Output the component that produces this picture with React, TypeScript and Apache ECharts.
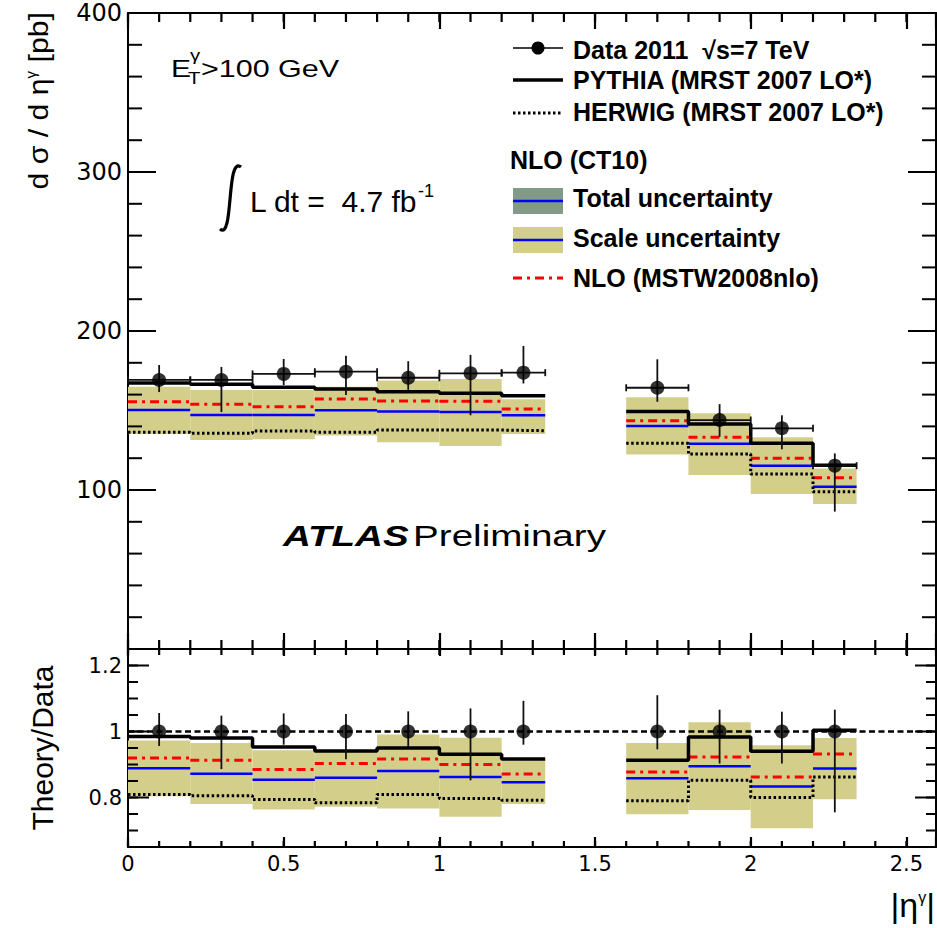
import React, { useEffect, useRef } from "react";
import * as echarts from "echarts";

// ---------- data ----------
const binLo = [0, 0.2, 0.4, 0.6, 0.8, 1.0, 1.2, 1.6, 1.8, 2.0, 2.2];
const binHi = [0.2, 0.4, 0.6, 0.8, 1.0, 1.2, 1.34, 1.8, 2.0, 2.2, 2.34];
const dataX = [0.1, 0.3, 0.5, 0.7, 0.9, 1.1, 1.27, 1.7, 1.9, 2.1, 2.27];
const binGroups = [[0, 7], [7, 11]];

// top panel: d sigma / d eta [pb]
const dataVal = [169.2, 169.2, 173.0, 174.4, 170.6, 173.4, 173.8, 164.3, 144.0, 138.8, 115.3];
const dataHigh = [178.6, 177.4, 182.4, 184.5, 181.0, 185.0, 190.6, 182.2, 154.0, 147.0, 123.0];
const dataLow = [161.6, 149.0, 166.0, 159.7, 163.0, 147.0, 167.0, 155.5, 133.5, 125.6, 86.4];
const pythia = [167.3, 166.5, 164.6, 163.5, 161.8, 160.8, 159.3, 149.3, 141.5, 129.4, 115.5];
const herwig = [136.3, 135.7, 137.1, 136.3, 137.7, 137.7, 137.3, 129.4, 122.6, 110.0, 98.9];
const nloCT10 = [150.3, 147.2, 147.2, 150.1, 149.3, 149.0, 147.0, 140.3, 129.1, 115.3, 102.1];
const nloMSTW = [155.5, 154.0, 152.4, 157.2, 156.0, 155.8, 151.0, 143.6, 133.1, 119.9, 107.7];
const scaleHigh = [165.0, 162.9, 162.9, 165.0, 168.8, 169.8, 157.0, 158.3, 148.2, 133.1, 113.6];
const scaleLow = [135.2, 131.4, 131.9, 134.2, 130.0, 127.7, 135.2, 122.4, 109.4, 97.5, 91.2];

// bottom panel: Theory/Data
const ratioData = [1, 1, 1, 1, 1, 1, 1, 1, 1, 1, 1];
const ratioDataHigh = [1.056, 1.048, 1.055, 1.053, 1.061, 1.07, 1.093, 1.11, 1.066, 1.06, 1.066];
const ratioDataLow = [0.956, 0.886, 0.96, 0.916, 0.953, 0.852, 0.96, 0.946, 0.903, 0.903, 0.755];
const ratioPythia = [0.985, 0.98, 0.953, 0.941, 0.95, 0.931, 0.917, 0.913, 0.983, 0.94, 1.004];
const ratioHerwig = [0.809, 0.805, 0.794, 0.784, 0.809, 0.797, 0.792, 0.79, 0.852, 0.8, 0.862];
const ratioCT10 = [0.889, 0.872, 0.854, 0.86, 0.88, 0.862, 0.846, 0.858, 0.895, 0.833, 0.888];
const ratioMSTW = [0.92, 0.913, 0.885, 0.903, 0.917, 0.9, 0.871, 0.877, 0.923, 0.862, 0.932];
const ratioScaleHigh = [0.973, 0.965, 0.943, 0.943, 0.991, 0.981, 0.913, 0.965, 1.028, 0.958, 0.98];
const ratioScaleLow = [0.804, 0.78, 0.764, 0.772, 0.767, 0.742, 0.78, 0.749, 0.762, 0.707, 0.795];
const unity = 1;

// axes and tick marks
const xRange = [0, 2.595];
const xMajorTicks = [0, 0.5, 1, 1.5, 2, 2.5];
const xMinorTicks = Array.from({ length: 26 }, (_, i) => i / 10);
const topRange = [0, 400];
const topMajorTicks = [0, 100, 200, 300, 400];
const topMinorTicks = Array.from({ length: 21 }, (_, i) => i * 20);
const topLabels = [100, 200, 300, 400];
const ratioRange = [0.65, 1.25];
const ratioMajorTicks = [0.8, 1, 1.2];
const ratioMinorTicks = Array.from({ length: 12 }, (_, i) => 0.7 + i * 0.05);

// ---------- styles ----------
const BAND = "#d3cf8b";
const TOTAL = "#829b88";
const BLUE = "#0000ff";
const RED = "#ff0000";
const MSTW_DASH = [9, 5, 3, 5];
const DOT_DASH = [2.5, 2.5];
const SANS = '"Liberation Sans", Arial, sans-serif';
const WIDE = '"DejaVu Sans", sans-serif';

function App() {
  const ref = useRef<HTMLDivElement>(null);

  useEffect(() => {
    if (!ref.current) return;
    const chart = echarts.init(ref.current, null, { renderer: "svg" });

    const frame = { show: true, onZero: false, lineStyle: { color: "#000", width: 2 } };
    const mkX = (grid: number, position: string, labels: boolean, tickLen: number) => ({
      type: "value",
      gridIndex: grid,
      position,
      min: xRange[0],
      max: xRange[1],
      interval: 0.5,
      axisLine: frame,
      axisTick: { show: true, inside: true, length: tickLen, lineStyle: { color: "#000", width: 2.2 } },
      axisLabel: labels
        ? { show: true, customValues: xMajorTicks, fontFamily: WIDE, fontSize: 21, color: "#000", margin: 6 }
        : { show: false },
      splitLine: { show: false },
    });
    const mkY = (grid: number, position: string, range: number[], labelVals: number[] | null, fontSize: number) => ({
      type: "value",
      gridIndex: grid,
      position,
      min: range[0],
      max: range[1],
      axisLine: frame,
      axisTick: { show: false },
      axisLabel: labelVals
        ? { show: true, customValues: labelVals, fontFamily: WIDE, fontSize, color: "#000", margin: 6 }
        : { show: false },
      splitLine: { show: false },
    });

    const xAxis = [
      mkX(0, "bottom", false, 16),
      mkX(0, "top", false, 16),
      mkX(1, "bottom", true, 10),
      mkX(1, "top", false, 7),
    ];
    const yAxis = [
      mkY(0, "left", topRange, topLabels, 24),
      mkY(0, "right", topRange, null, 24),
      mkY(1, "left", ratioRange, ratioMajorTicks, 21),
      mkY(1, "right", ratioRange, null, 21),
    ];

    // inside tick marks placed through the axes' scales
    const mkYTicks = (vals: number[], len: number, xi: number, yi: number) => ({
      type: "custom",
      xAxisIndex: xi,
      yAxisIndex: yi,
      z: 6,
      silent: true,
      data: vals.map((v) => [1, v]),
      renderItem: (_p: any, api: any) => {
        const l = api.coord([xRange[0], api.value(1)]);
        const r = api.coord([xRange[1], api.value(1)]);
        return {
          type: "group",
          children: [
            { type: "line", shape: { x1: l[0], y1: l[1], x2: l[0] + len, y2: l[1] }, style: { stroke: "#000", lineWidth: 2 } },
            { type: "line", shape: { x1: r[0] - len, y1: r[1], x2: r[0], y2: r[1] }, style: { stroke: "#000", lineWidth: 2 } },
          ],
        };
      },
    });
    const mkXMinorTicks = (vals: number[], len: number, xi: number, yi: number, yEdge: number, dir: number, mid: number) => ({
      type: "custom",
      xAxisIndex: xi,
      yAxisIndex: yi,
      z: 6,
      silent: true,
      data: [[1, mid]],
      renderItem: (_p: any, api: any) => ({
        type: "group",
        children: vals.map((v) => {
          const b = api.coord([v, yEdge]);
          return {
            type: "line",
            shape: { x1: b[0], y1: b[1], x2: b[0], y2: b[1] + dir * len },
            style: { stroke: "#000", lineWidth: 2.2 },
          };
        }),
      }),
    });

    const mkBand = (low: number[], high: number[], xi: number, yi: number, color: string) => ({
      type: "custom",
      xAxisIndex: xi,
      yAxisIndex: yi,
      z: 1,
      silent: true,
      data: binLo.map((lo, i) => [lo, binHi[i], low[i], high[i]]),
      renderItem: (_p: any, api: any) => {
        const a = api.coord([api.value(0), api.value(3)]);
        const b = api.coord([api.value(1), api.value(2)]);
        return {
          type: "rect",
          shape: { x: a[0], y: a[1], width: b[0] - a[0], height: b[1] - a[1] },
          style: { fill: color },
        };
      },
    });

    const mkSeg = (vals: number[], xi: number, yi: number, style: any) => ({
      type: "custom",
      xAxisIndex: xi,
      yAxisIndex: yi,
      z: 2,
      silent: true,
      data: binLo.map((lo, i) => [lo, binHi[i], vals[i]]),
      renderItem: (_p: any, api: any) => {
        const a = api.coord([api.value(0), api.value(2)]);
        const b = api.coord([api.value(1), api.value(2)]);
        return {
          type: "line",
          shape: { x1: a[0], y1: a[1], x2: b[0], y2: b[1] },
          style: { fill: null, ...style },
        };
      },
    });

    const mkStep = (vals: number[], xi: number, yi: number, lineStyle: any) =>
      binGroups.map(([s, e]) => ({
        type: "line",
        xAxisIndex: xi,
        yAxisIndex: yi,
        z: 3,
        silent: true,
        symbol: "none",
        lineStyle,
        data: binLo.slice(s, e).flatMap((lo, k) => [
          [lo, vals[s + k]],
          [binHi[s + k], vals[s + k]],
        ]),
      }));

    const errStyle = { stroke: "#111", lineWidth: 1.8 };
    const mkErr = (vals: number[], low: number[], high: number[], xi: number, yi: number, horiz: boolean) => ({
      type: "custom",
      xAxisIndex: xi,
      yAxisIndex: yi,
      z: 4,
      silent: true,
      data: dataX.map((x, i) => [x, vals[i], low[i], high[i], binLo[i], binHi[i]]),
      renderItem: (_p: any, api: any) => {
        const x = api.value(0);
        const y = api.value(1);
        const t = api.coord([x, api.value(3)]);
        const b = api.coord([x, api.value(2)]);
        const children: any[] = [
          { type: "line", shape: { x1: t[0], y1: t[1], x2: b[0], y2: b[1] }, style: errStyle },
        ];
        if (horiz) {
          const l = api.coord([api.value(4), y]);
          const r = api.coord([api.value(5), y]);
          children.push({ type: "line", shape: { x1: l[0], y1: l[1], x2: r[0], y2: r[1] }, style: errStyle });
          children.push({ type: "line", shape: { x1: l[0], y1: l[1] - 3.5, x2: l[0], y2: l[1] + 3.5 }, style: errStyle });
          children.push({ type: "line", shape: { x1: r[0], y1: r[1] - 3.5, x2: r[0], y2: r[1] + 3.5 }, style: errStyle });
        }
        return { type: "group", children };
      },
    });

    const mkPts = (vals: number[], xi: number, yi: number) => ({
      type: "scatter",
      xAxisIndex: xi,
      yAxisIndex: yi,
      z: 5,
      silent: true,
      symbol: "circle",
      symbolSize: 14,
      itemStyle: { color: "#000" },
      data: dataX.map((x, i) => [x, vals[i]]),
    });

    const series: any[] = [
      // top panel
      mkBand(scaleLow, scaleHigh, 0, 0, BAND),
      mkSeg(nloCT10, 0, 0, { stroke: BLUE, lineWidth: 2.5 }),
      mkSeg(nloMSTW, 0, 0, { stroke: RED, lineWidth: 3, lineDash: MSTW_DASH }),
      ...mkStep(herwig, 0, 0, { color: "#000", width: 3, type: DOT_DASH }),
      ...mkStep(pythia, 0, 0, { color: "#000", width: 3.5 }),
      mkErr(dataVal, dataLow, dataHigh, 0, 0, true),
      mkPts(dataVal, 0, 0),
      mkYTicks(topMajorTicks, 28, 0, 0),
      mkYTicks(topMinorTicks, 14, 0, 0),
      mkXMinorTicks(xMinorTicks, 9, 0, 0, topRange[0], -1, 200),
      mkXMinorTicks(xMinorTicks, 9, 0, 0, topRange[1], 1, 200),
      // ratio panel
      mkBand(ratioScaleLow, ratioScaleHigh, 2, 2, BAND),
      mkSeg(ratioCT10, 2, 2, { stroke: BLUE, lineWidth: 2.5 }),
      mkSeg(ratioMSTW, 2, 2, { stroke: RED, lineWidth: 3, lineDash: MSTW_DASH }),
      ...mkStep(ratioHerwig, 2, 2, { color: "#000", width: 3, type: DOT_DASH }),
      {
        type: "line",
        xAxisIndex: 2,
        yAxisIndex: 2,
        z: 3,
        silent: true,
        symbol: "none",
        lineStyle: { color: "#000", width: 2.5, type: [6, 3.5] },
        data: [
          [xRange[0], unity],
          [xRange[1], unity],
        ],
      },
      ...mkStep(ratioPythia, 2, 2, { color: "#000", width: 3.5 }),
      mkErr(ratioData, ratioDataLow, ratioDataHigh, 2, 2, false),
      mkPts(ratioData, 2, 2),
      mkYTicks(ratioMajorTicks, 21, 2, 2),
      mkYTicks(ratioMinorTicks, 10, 2, 2),
      mkXMinorTicks(xMinorTicks, 6, 2, 2, ratioRange[0], -1, 1),
      mkXMinorTicks(xMinorTicks, 6, 2, 2, ratioRange[1], 1, 1),
    ];

    const legendText = (y: number, text: string, x = 573) => ({
      type: "text",
      x,
      y,
      style: { text, font: `bold 25px ${SANS}`, fill: "#000", textAlign: "left", textVerticalAlign: "middle" },
    });

    const graphic: any[] = [
      // legend
      { type: "line", shape: { x1: 513, y1: 48, x2: 563, y2: 48 }, style: { stroke: "#000", lineWidth: 1.5 } },
      { type: "circle", shape: { cx: 538, cy: 48, r: 6.5 }, style: { fill: "#000" } },
      legendText(50, "Data 2011  \u221As=7 TeV"),
      { type: "line", shape: { x1: 513, y1: 80, x2: 563, y2: 80 }, style: { stroke: "#000", lineWidth: 3.5 } },
      legendText(80, "PYTHIA (MRST 2007 LO*)"),
      {
        type: "line",
        shape: { x1: 513, y1: 113, x2: 563, y2: 113 },
        style: { stroke: "#000", lineWidth: 3, lineDash: DOT_DASH },
      },
      legendText(112, "HERWIG (MRST 2007 LO*)"),
      legendText(160, "NLO (CT10)", 510),
      { type: "rect", shape: { x: 513, y: 188, width: 50, height: 26 }, style: { fill: TOTAL } },
      { type: "line", shape: { x1: 513, y1: 201, x2: 563, y2: 201 }, style: { stroke: BLUE, lineWidth: 2.5 } },
      legendText(198, "Total uncertainty"),
      { type: "rect", shape: { x: 513, y: 227, width: 50, height: 26 }, style: { fill: BAND } },
      { type: "line", shape: { x1: 513, y1: 240, x2: 563, y2: 240 }, style: { stroke: BLUE, lineWidth: 2.5 } },
      legendText(238, "Scale uncertainty"),
      {
        type: "line",
        shape: { x1: 513, y1: 278, x2: 563, y2: 278 },
        style: { stroke: RED, lineWidth: 3, lineDash: MSTW_DASH },
      },
      legendText(278, "NLO (MSTW2008nlo)"),

      // E_T^gamma > 100 GeV
      {
        type: "text",
        x: 171,
        y: 69,
        scaleX: 1.25,
        style: { text: "E", font: `24px ${SANS}`, fill: "#000", textVerticalAlign: "middle" },
      },
      {
        type: "text",
        x: 188,
        y: 78,
        scaleX: 1.2,
        style: { text: "T", font: `17px ${SANS}`, fill: "#000", textVerticalAlign: "middle" },
      },
      {
        type: "text",
        x: 190,
        y: 55,
        scaleX: 1.2,
        style: { text: "\u03B3", font: `17px ${SANS}`, fill: "#000", textVerticalAlign: "middle" },
      },
      {
        type: "text",
        x: 201,
        y: 69,
        scaleX: 1.27,
        style: { text: ">100 GeV", font: `24px ${SANS}`, fill: "#000", textVerticalAlign: "middle" },
      },

      // integral L dt
      {
        type: "bezierCurve",
        shape: { x1: 220, y1: 229, cpx1: 234, cpy1: 241, cpx2: 226, cpy2: 155, x2: 241, y2: 167 },
        style: { stroke: "#000", lineWidth: 3.2, fill: null },
      },
      {
        type: "text",
        x: 250,
        y: 201,
        style: { text: "L dt =  4.7 fb", font: `30px ${SANS}`, fill: "#000", textVerticalAlign: "middle" },
      },
      {
        type: "text",
        x: 418,
        y: 191,
        style: { text: "-1", font: `18px ${SANS}`, fill: "#000", textVerticalAlign: "middle" },
      },

      // ATLAS Preliminary
      {
        type: "text",
        x: 283,
        y: 536,
        scaleX: 1.33,
        style: {
          text: "{a|ATLAS} {b|Preliminary}",
          fill: "#000",
          textVerticalAlign: "middle",
          rich: {
            a: { fontFamily: SANS, fontSize: 29, fontWeight: "bold", fontStyle: "italic", fill: "#000" },
            b: { fontFamily: SANS, fontSize: 29, fill: "#000" },
          },
        },
      },

      // axis titles
      {
        type: "text",
        x: 38,
        y: 12,
        rotation: Math.PI / 2,
        scaleX: 1.08,
        style: {
          text: "d \u03C3 / d \u03B7{s|\u03B3} [pb]",
          font: `28px ${SANS}`,
          fill: "#000",
          textAlign: "right",
          textVerticalAlign: "middle",
          rich: { s: { fontFamily: SANS, fontSize: 14, verticalAlign: "top", padding: [0, 0, 12, 0] } },
        },
      },
      {
        type: "text",
        x: 42,
        y: 748,
        rotation: Math.PI / 2,
        style: {
          text: "Theory/Data",
          font: `30px ${SANS}`,
          fill: "#000",
          textAlign: "center",
          textVerticalAlign: "middle",
        },
      },
      {
        type: "text",
        x: 935,
        y: 905,
        style: {
          text: "|\u03B7{s|\u03B3}|",
          font: `34px ${SANS}`,
          fill: "#000",
          textAlign: "right",
          textVerticalAlign: "middle",
          rich: { s: { fontFamily: SANS, fontSize: 16, padding: [0, 0, 15, 0] } },
        },
      },
    ];

    chart.setOption({
      animation: false,
      backgroundColor: "#fff",
      grid: [
        { left: 128, right: 1, top: 13, height: 636 },
        { left: 128, right: 1, top: 649, height: 198 },
      ],
      xAxis,
      yAxis,
      series,
      graphic,
    });

    return () => chart.dispose();
  }, []);

  return (
    <div ref={ref} style={{ position: "fixed", left: 0, top: 0, width: 937, height: 928, background: "#fff" }} />
  );
}

export default App;
